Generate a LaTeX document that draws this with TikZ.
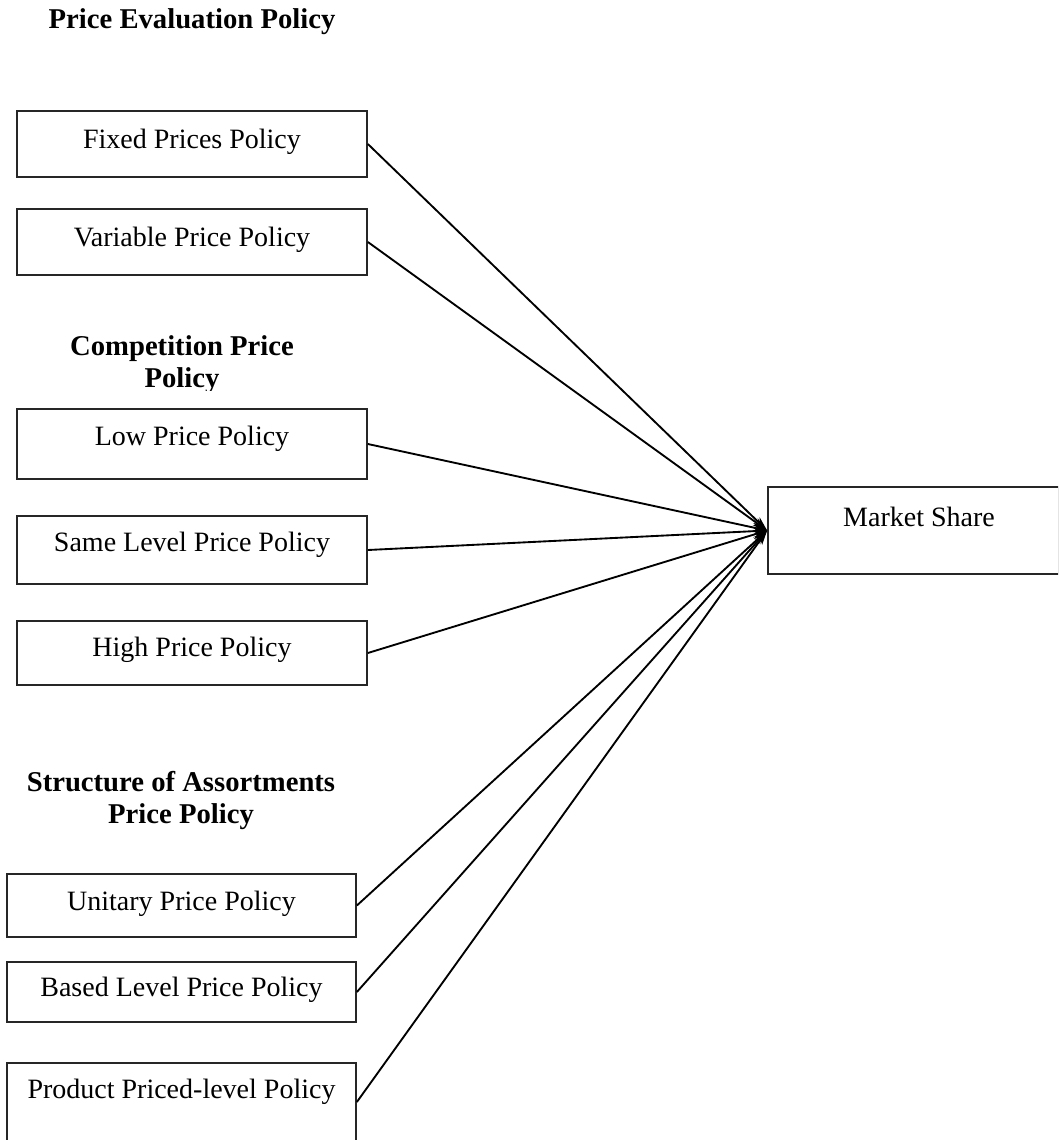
\documentclass[tikz,border=0pt]{standalone}
\usepackage{fontspec}
\setmainfont{Liberation Serif}
\usetikzlibrary{arrows.meta}
\begin{document}
\begin{tikzpicture}[x=0.75pt,y=-0.75pt,
  box/.style={draw=black!85,line width=1.3pt,inner sep=0pt},
  lbl/.style={font=\fontsize{21}{24}\selectfont,inner sep=0pt},
  ttl/.style={font=\bfseries\fontsize{21.5}{24}\selectfont,align=center,inner sep=0pt},
  conn/.style={line width=1.4pt,-{Stealth[length=11pt,width=6.5pt]}}]
\useasboundingbox (0,0) rectangle (1058,1140);
\clip (0,0) rectangle (1058,1140);
% titles
\node[ttl] (t1) at (192,22) {Price Evaluation Policy};
\begin{scope}
\clip (0,320) rectangle (400,390);
\node[ttl] (t2) at (182,365) {Competition Price\\Policy};
\end{scope}
\node[ttl] (t3) at (181,800) {Structure of Assortments\\Price Policy};
% boxes
\node[box,minimum width=262.5pt,minimum height=49.5pt] (fixed) at (192,144) {};
\node[box,minimum width=262.5pt,minimum height=49.5pt] (var) at (192,242) {};
\node[box,minimum width=262.5pt,minimum height=52.5pt] (low) at (192,444) {};
\node[box,minimum width=262.5pt,minimum height=51pt] (same) at (192,550) {};
\node[box,minimum width=262.5pt,minimum height=48pt] (high) at (192,653) {};
\node[box,minimum width=261.75pt,minimum height=47.25pt] (unit) at (181.5,905.5) {};
\node[box,minimum width=261.75pt,minimum height=45pt] (based) at (181.5,992) {};
\node[box,minimum width=261.75pt,minimum height=58.5pt] (prod) at (181.5,1102) {};
\node[box,minimum width=218.25pt,minimum height=65.25pt] (ms) at (913.5,530.5) {};
% labels
\node[lbl] (lfixed) at (192,142) {Fixed Prices Policy};
\node[lbl] (lvar) at (192,240) {Variable Price Policy};
\node[lbl] (llow) at (192,439) {Low Price Policy};
\node[lbl] (lsame) at (192,545) {Same Level Price Policy};
\node[lbl] (lhigh) at (192,650) {High Price Policy};
\node[lbl] (lunit) at (181.5,904) {Unitary Price Policy};
\node[lbl] (lbased) at (181.5,990) {Based Level Price Policy};
\node[lbl] (lprod) at (181.5,1092) {Product Priced-level Policy};
\node[lbl] (lms) at (919,517) {Market Share};
% connectors
\foreach \n in {fixed,var,low,same,high,unit,based,prod}
  \draw[conn] (\n.east) -- (ms.west);
\end{tikzpicture}
\end{document}
